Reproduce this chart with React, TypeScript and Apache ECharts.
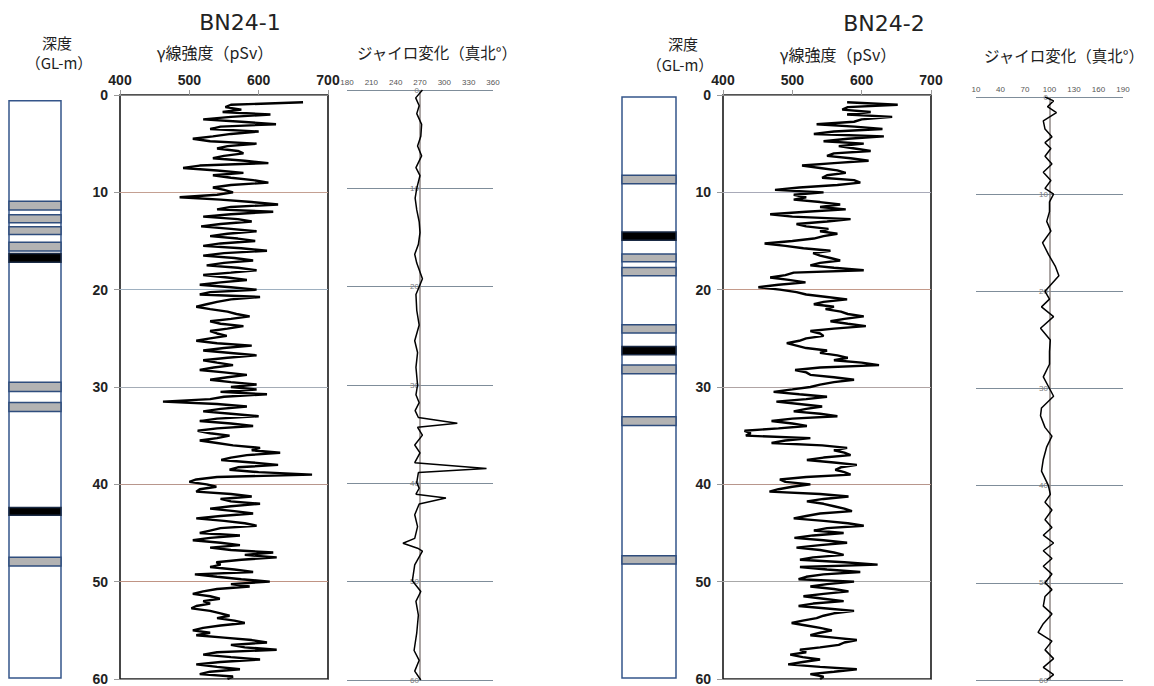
import React, { useEffect, useRef } from "react";
import * as echarts from "echarts";

// ---------- ticks ----------
const DEPTH_TICKS = [0, 10, 20, 30, 40, 50, 60];
const GAMMA_TICKS = [400, 500, 600, 700];
const GYRO1_TICKS = [180, 210, 240, 270, 300, 330, 360];
const GYRO2_TICKS = [10, 40, 70, 100, 130, 160, 190];
const GYRO1_REF = 270;
const GYRO2_REF = 100;

// ---------- gamma logs (pSv), depth = GAMMA_START + i * GAMMA_STEP ----------
const GAMMA_START = 0.75;
const GAMMA_STEP = 0.25;
const gamma1 = [
  664,
  560, 552, 575, 548, 617, 560, 520, 575, 625, 545, 530, 600, 560, 534, 505, 530,
  597, 555, 540, 570, 578, 550, 534, 580, 614, 515, 491, 540, 578, 534, 560, 592,
  614, 560, 534, 550, 563, 540, 486, 545, 590, 628, 560, 540, 621, 560, 520, 570,
  590, 545, 517, 560, 597, 555, 530, 570, 595, 545, 520, 575, 612, 550, 520, 565,
  592, 550, 525, 570, 597, 560, 520, 555, 583, 545, 515, 560, 597, 530, 515, 602,
  560, 540, 525, 510, 530, 555, 568, 587, 560, 530, 545, 578, 555, 530, 540, 554,
  530, 510, 540, 590, 550, 520, 560, 597, 555, 520, 540, 563, 535, 515, 550, 583,
  555, 530, 560, 597, 560,
  597, 545, 612,
  550, 530, 462, 540, 583, 545, 520, 560, 600, 540, 515, 560, 592, 540, 512, 530,
  558, 540, 515, 540, 563, 602, 590, 631, 583, 560, 546, 590, 628, 570, 558, 600,
  677, 540, 510, 500, 525, 539, 515, 510, 560, 590, 545, 560, 602, 560, 530, 565,
  592, 545, 510, 550, 580, 597, 545, 530, 515, 573, 530, 505, 545, 573, 530, 560,
  621, 580, 626, 575, 539, 545, 530, 565, 592, 508, 540, 575, 616, 560, 587, 540,
  520, 505, 530, 544, 520, 530, 510, 503, 530, 545, 558, 540, 565, 580, 545, 520,
  505, 530, 510, 550, 590, 612, 560, 580, 626, 540, 520, 560, 602, 545, 510, 540,
  573, 530, 515, 563, 555,
];
const gamma2 = [
  579,
  652, 580, 572, 613, 579, 644, 600, 589, 535, 590, 630, 560, 531, 632, 580, 545,
  603, 567, 590, 613, 560, 550, 584, 610, 560, 514, 540, 565, 577, 550, 543, 589,
  598, 565, 510, 475, 545, 502, 520, 502, 540, 569, 540, 577, 520, 468, 500, 584,
  550, 506, 520, 552, 540, 565, 545, 531, 500, 460, 490, 516, 555, 530, 540, 555,
  569, 540, 526, 560, 603, 502, 490, 468, 495, 519, 480, 451, 482, 506, 520, 550,
  579, 545, 531, 560, 548, 570, 580, 603, 575, 555, 580, 606, 560, 526, 540, 545,
  520, 510, 492, 506, 520, 550, 540, 565, 580, 560, 600, 625, 540, 504, 520, 526,
  560, 589, 560, 540, 526,
  500, 473, 510,
  550, 520, 477, 510, 543, 520, 502, 540, 565, 500, 470, 500, 521, 480, 431, 440,
  433, 526, 490, 470, 543, 579, 560, 575, 584, 545, 521, 560, 593, 570, 562, 575,
  584, 520, 482, 490, 526, 500, 480, 467, 540, 581, 545, 521, 545, 560, 575, 586,
  540, 520, 502, 545, 580, 603, 550, 531, 574, 530, 503, 545, 579, 540, 506, 540,
  560, 574, 530, 511, 575, 623, 511, 550, 598, 545, 520, 509, 589, 550, 526, 560,
  581, 545, 516, 545, 574, 530, 509, 550, 589, 560, 545, 535, 515, 499, 520, 540,
  557, 540, 526, 560, 593, 575, 567, 540, 511, 520, 497, 515, 540, 515, 494, 540,
  593, 560, 526, 545, 540,
];

// ---------- gyro logs: [depth m, bearing deg] ----------
const gyro1: [number, number][] = [
  [0, 273], [0.8, 264.7], [1.6, 269], [2.4, 266], [3.5, 272], [4.7, 271], [5.7, 267],
  [6.7, 272], [7.9, 265], [8.7, 270], [10, 266], [11, 264], [12.2, 266], [13.4, 269],
  [14.5, 270], [15.7, 268], [16.7, 263.5], [17.6, 266], [19.2, 273], [20, 269],
  [20.8, 265], [22.4, 266], [23.9, 269], [25.5, 263.5], [26.7, 267], [28.2, 265],
  [30, 267], [31, 265], [31.8, 269], [32.6, 264], [33.3, 268], [33.9, 316], [34.3, 267],
  [35.1, 273], [36.1, 263.5], [36.9, 270], [37.9, 263.5], [38.5, 352], [38.9, 268],
  [39.9, 266], [40.5, 269], [41.1, 265], [41.5, 302], [42.1, 269], [43.2, 263.5],
  [44.4, 267], [45.6, 263.5], [46.1, 249], [46.6, 267], [46.9, 273], [48.3, 263.5],
  [49.9, 260.6], [51, 271], [52, 265], [53.4, 268], [55.2, 266], [57, 262.7], [58, 269],
  [59.1, 263.5], [60, 271],
];
const gyro2: [number, number][] = [
  [0, 94.5], [0.4, 105], [1.0, 97.5], [1.6, 108.5], [2.45, 92.4], [3.3, 94.5], [4.1, 103],
  [4.7, 94.5], [5.3, 101.7], [6.1, 94.5], [6.9, 103], [7.75, 92.4], [8.6, 101.7], [9.4, 94.5],
  [10, 105], [10.8, 100], [11.8, 100], [12.8, 96.6], [13.8, 101.7], [15, 91.5], [16.2, 98.7],
  [17.4, 107], [18.4, 111.5], [19.2, 103], [20, 94.5], [20.8, 100], [21.6, 90.2], [22.6, 105],
  [23.8, 89], [25, 101], [26.2, 100], [27.5, 100], [28.8, 92.4], [30, 100], [30.8, 105],
  [32, 90.2], [32.8, 89], [34, 94.5], [34.9, 103], [36, 96.6], [37.3, 92.4], [38.5, 90.2],
  [40, 98.7], [40.9, 101], [41.7, 94.5], [42.5, 103], [43.5, 94.5], [44.3, 103], [45.1, 92.4],
  [45.9, 105], [46.7, 92.4], [47.5, 103], [48.3, 92.4], [49.1, 103], [50, 94.5], [50.7, 103],
  [51.4, 94.5], [52.4, 92.4], [53.2, 103], [54.2, 92.4], [55.1, 86], [56, 103], [56.9, 94.5],
  [57.8, 105], [58.7, 92.4], [59.45, 105], [60, 96.6],
];

// ---------- lithology columns: [top m, bottom m] ----------
const lith1Column: [number, number][] = [[0.6, 59.8]];
const lith1Gray: [number, number][] = [
  [10.9, 11.8], [12.27, 13.1], [13.5, 14.3], [15.1, 16.0], [29.45, 30.4], [31.55, 32.45], [47.4, 48.3],
];
const lith1Black: [number, number][] = [[16.25, 17.15], [42.3, 43.1]];
const lith2Column: [number, number][] = [[0.2, 59.8]];
const lith2Gray: [number, number][] = [
  [8.24, 9.1], [16.3, 17.1], [17.7, 18.55], [23.56, 24.4], [27.7, 28.6], [33.0, 33.9], [47.25, 48.1],
];
const lith2Black: [number, number][] = [[14.04, 14.9], [25.8, 26.65]];

// ---------- texts ----------
const TITLES = ["BN24-1", "BN24-2"];
const DEPTH_LABEL = ["深度", "（GL-m）"];
const GAMMA_LABEL = "γ線強度（pSv）";
const GYRO_LABEL = "ジャイロ変化（真北°）";

const CJK = "'Noto Sans CJK JP', 'Noto Sans', sans-serif";
const NUM = "'Liberation Sans', Arial, sans-serif";
const TITLE_FONT = "'DejaVu Sans', sans-serif";

function toGammaData(vals: number[]) {
  return vals.map((v, i) => [v, GAMMA_START + i * GAMMA_STEP]);
}
function toGyroData(pairs: [number, number][]) {
  return pairs.map(([d, v]) => [v, d]);
}

function rectRenderer(fill: string, stroke: string) {
  return (params: any, api: any) => {
    const p1 = api.coord([0, api.value(0)]);
    const p2 = api.coord([1, api.value(1)]);
    return {
      type: "rect",
      shape: { x: p1[0], y: p1[1], width: p2[0] - p1[0], height: p2[1] - p1[1] },
      style: { fill, stroke, lineWidth: 1.5 },
    };
  };
}

export default function App() {
  const ref = useRef<HTMLDivElement>(null);

  useEffect(() => {
    if (!ref.current) return;
    const chart = echarts.init(ref.current, undefined, { renderer: "svg" });

    const gammaSplit1 = ["#888", "#c4a092", "#9eb0c0", "#a4acb6", "#b8968c", "#c09484", "#888"];
    const gammaSplit2 = ["#888", "#a8aab8", "#c49a8a", "#b0a4a4", "#b8968c", "#a8a8a8", "#888"];

    const lithX = (gi: number) => ({
      gridIndex: gi, type: "value", min: 0, max: 1, show: false,
    });
    const lithY = (gi: number) => ({
      gridIndex: gi, type: "value", inverse: true,
      min: DEPTH_TICKS[0], max: DEPTH_TICKS[DEPTH_TICKS.length - 1], show: false,
    });
    const gammaX = (gi: number) => ({
      gridIndex: gi, type: "value", position: "top",
      min: GAMMA_TICKS[0], max: GAMMA_TICKS[GAMMA_TICKS.length - 1],
      interval: GAMMA_TICKS[1] - GAMMA_TICKS[0],
      axisLine: { show: false },
      axisTick: { show: true, length: 5, lineStyle: { color: "#9a9a9a" } },
      axisLabel: { fontSize: 14, fontWeight: "bold", color: "#222", fontFamily: NUM, margin: 8 },
      splitLine: { show: false },
    });
    const gammaY = (gi: number, colors: string[]) => ({
      gridIndex: gi, type: "value", inverse: true,
      min: DEPTH_TICKS[0], max: DEPTH_TICKS[DEPTH_TICKS.length - 1],
      interval: DEPTH_TICKS[1] - DEPTH_TICKS[0],
      axisLine: { show: false },
      axisTick: { show: true, length: 6, lineStyle: { color: "#9a9a9a" } },
      axisLabel: { fontSize: 14, fontWeight: "bold", color: "#222", fontFamily: NUM, margin: 12 },
      splitLine: { show: true, lineStyle: { color: colors, width: 1.2 } },
    });
    const gyroX = (gi: number, ticks: number[]) => ({
      gridIndex: gi, type: "value", position: "top",
      min: ticks[0], max: ticks[ticks.length - 1], interval: ticks[1] - ticks[0],
      axisLine: { show: false }, axisTick: { show: false },
      axisLabel: { fontSize: 8, color: "#555", fontFamily: NUM, margin: 4 },
      splitLine: { show: false },
    });
    const gyroY = (gi: number, margin: number) => ({
      gridIndex: gi, type: "value", inverse: true,
      min: DEPTH_TICKS[0], max: DEPTH_TICKS[DEPTH_TICKS.length - 1],
      interval: DEPTH_TICKS[1] - DEPTH_TICKS[0],
      axisLine: { show: false }, axisTick: { show: false },
      axisLabel: { fontSize: 8, color: "#7a7a7a", fontFamily: NUM, align: "right", margin },
      splitLine: { show: true, lineStyle: { color: "#7f8d9a", width: 1.2 } },
    });

    const lithSeries = (gi: number, col: [number, number][], gray: [number, number][], black: [number, number][]) => [
      { type: "custom", xAxisIndex: gi, yAxisIndex: gi, data: col, renderItem: rectRenderer("#ffffff", "#34558a"), silent: true, z: 2 },
      { type: "custom", xAxisIndex: gi, yAxisIndex: gi, data: gray, renderItem: rectRenderer("#b3b3b3", "#2f4d7d"), silent: true, z: 3 },
      { type: "custom", xAxisIndex: gi, yAxisIndex: gi, data: black, renderItem: rectRenderer("#000000", "#1a2a44"), silent: true, z: 3 },
    ];

    const lineSeries = (gi: number, data: number[][], width: number) => ({
      type: "line", xAxisIndex: gi, yAxisIndex: gi, data, showSymbol: false, symbol: "none",
      lineStyle: { color: "#000", width }, silent: true, z: 5,
    });

    const textEl = (text: string, x: number, y: number, fontSize: number, font = CJK) => ({
      type: "text", x, y, silent: true,
      style: { text, fontSize, fontFamily: font, fill: "#222", align: "center", verticalAlign: "middle" },
    });

    const option: any = {
      animation: false,
      backgroundColor: "#ffffff",
      grid: [
        { left: 9, top: 95, width: 52, height: 585 },
        { left: 120, top: 95, width: 208, height: 585, show: true, borderColor: "#1a1a1a", borderWidth: 1.6 },
        { left: 347, top: 90, width: 146, height: 590 },
        { left: 622, top: 95, width: 54, height: 585 },
        { left: 723, top: 95, width: 208, height: 585, show: true, borderColor: "#1a1a1a", borderWidth: 1.6 },
        { left: 976, top: 97, width: 147, height: 583 },
      ],
      xAxis: [lithX(0), gammaX(1), gyroX(2, GYRO1_TICKS), lithX(3), gammaX(4), gyroX(5, GYRO2_TICKS)],
      yAxis: [lithY(0), gammaY(1, gammaSplit1), gyroY(2, -72), lithY(3), gammaY(4, gammaSplit2), gyroY(5, -72)],
      series: [
        ...lithSeries(0, lith1Column, lith1Gray, lith1Black),
        lineSeries(1, toGammaData(gamma1), 2.4),
        {
          ...lineSeries(2, toGyroData(gyro1), 1.5),
          markLine: {
            silent: true, symbol: ["none", "none"], label: { show: false },
            lineStyle: { color: "#8f8784", width: 1.5, type: "solid" },
            data: [{ xAxis: GYRO1_REF }],
          },
        },
        ...lithSeries(3, lith2Column, lith2Gray, lith2Black),
        lineSeries(4, toGammaData(gamma2), 2.4),
        {
          ...lineSeries(5, toGyroData(gyro2), 1.5),
          markLine: {
            silent: true, symbol: ["none", "none"], label: { show: false },
            lineStyle: { color: "#8f8784", width: 1.5, type: "solid" },
            data: [{ xAxis: GYRO2_REF }],
          },
        },
      ],
      graphic: [
        textEl(TITLES[0], 240, 22, 22, TITLE_FONT),
        textEl(TITLES[1], 884, 23, 22, TITLE_FONT),
        textEl(DEPTH_LABEL[0], 57, 42, 15),
        textEl(DEPTH_LABEL[1], 59, 62, 15),
        textEl(DEPTH_LABEL[0], 683, 43, 15),
        textEl(DEPTH_LABEL[1], 680, 64, 15),
        textEl(GAMMA_LABEL, 215, 52, 16),
        textEl(GAMMA_LABEL, 838, 54, 16),
        textEl(GYRO_LABEL, 437, 52, 15.5),
        textEl(GYRO_LABEL, 1064, 55, 15.5),
      ],
    };

    chart.setOption(option);
    return () => chart.dispose();
  }, []);

  return (
    <div
      ref={ref}
      style={{ position: "fixed", left: 0, top: 0, width: 1154, height: 686, background: "#fff" }}
    />
  );
}
